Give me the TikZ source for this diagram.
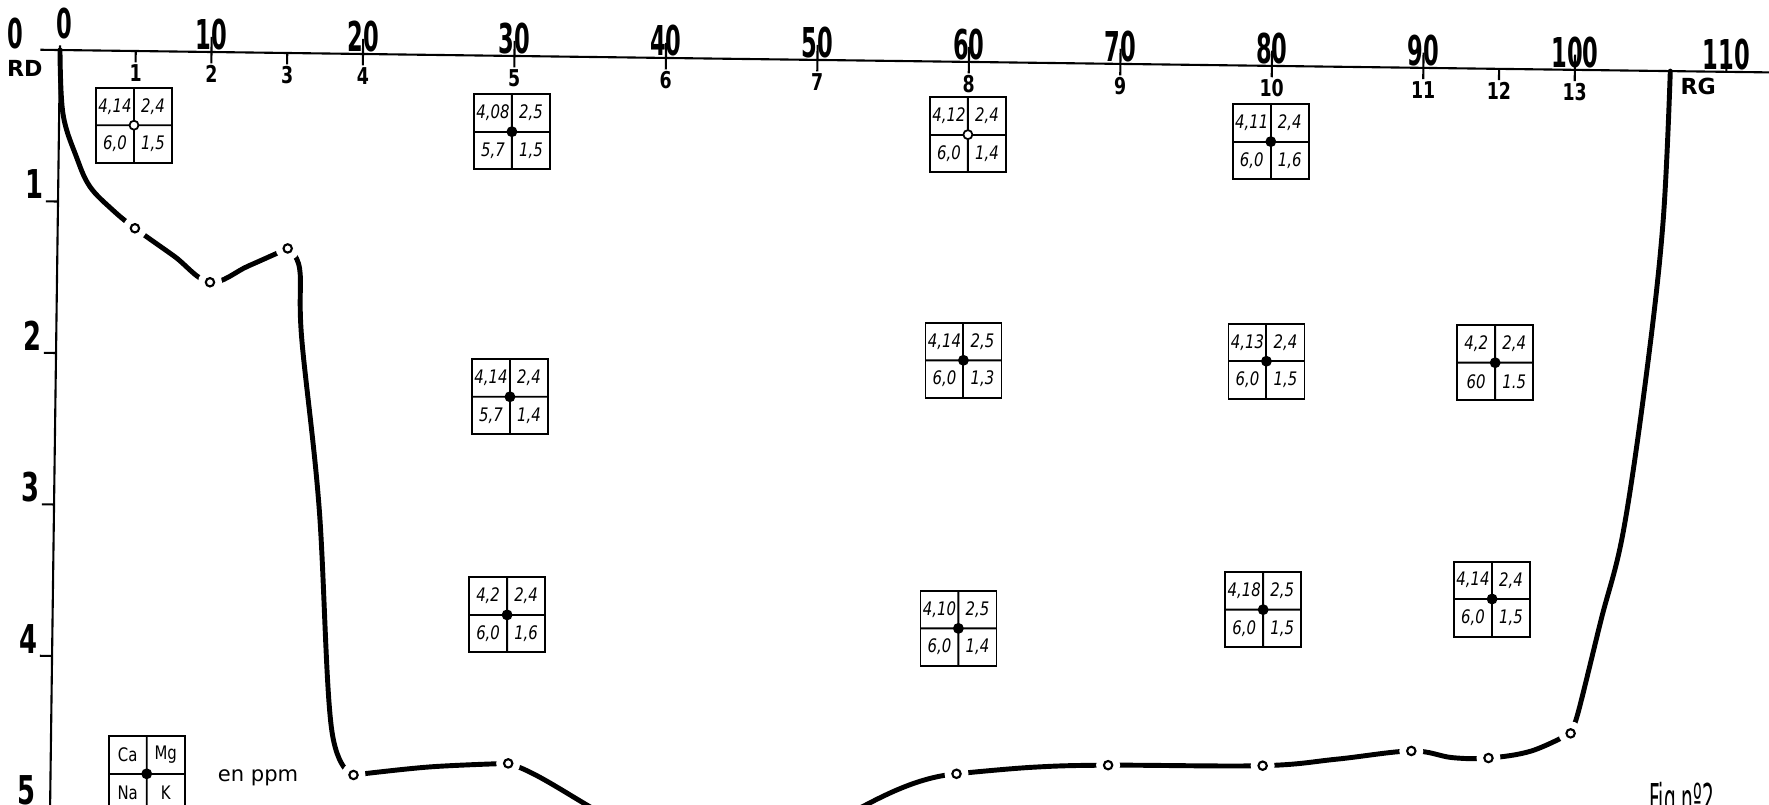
\documentclass[tikz,border=0pt]{standalone}
\usepackage{fontspec}
\setmainfont{DejaVu Sans}
\usepackage{graphicx}
\usepackage{tikz}
\usetikzlibrary{calc}
\tikzset{>=latex}
\tikzset{axisline/.style={line width=0.6pt},
  profil/.style={line width=1.4pt, line cap=round},
  ptline/.style={line width=0.6pt},
  ionframe/.style={draw, line width=0.55pt, minimum width=0.76cm,
    minimum height=0.75cm, inner sep=0pt, outer sep=0pt},
  cell/.style={inner sep=0pt, font=\fontsize{5.3}{6}\selectfont\itshape},
  toplab/.style={anchor=south, inner sep=0pt, font=\fontsize{11.7}{12}\selectfont\bfseries},
  stlab/.style={anchor=north, inner sep=0pt, font=\fontsize{6.6}{7}\selectfont\bfseries},
  deplab/.style={anchor=south east, inner sep=0.5pt, font=\fontsize{11.3}{12}\selectfont\bfseries},
  edgelab/.style={inner sep=0pt, font=\fontsize{6.3}{7}\selectfont\bfseries}}
% condensed lettering
\newcommand{\narrow}[2][0.55]{\scalebox{#1}[1]{#2}}
% 2x2 table of ions around a sample point
\newcommand{\ionbox}[7][fill=black]{%
  \node[ionframe] (#2) at #3 {};
  \draw[line width=0.55pt] (#2.north) -- (#2.south);
  \draw[line width=0.55pt] (#2.west) -- (#2.east);
  \node[cell] (#2-a) at ($(#2.center)!0.5!(#2.north west)$) {\narrow[0.8]{#4}};
  \node[cell] (#2-b) at ($(#2.center)!0.5!(#2.north east)$) {\narrow[0.8]{#5}};
  \node[cell] (#2-c) at ($(#2.center)!0.5!(#2.south west)$) {\narrow[0.8]{#6}};
  \node[cell] (#2-d) at ($(#2.center)!0.5!(#2.south east)$) {\narrow[0.8]{#7}};
  \filldraw[line width=0.5pt, #1] (#2.center) circle (0.045cm);}

\begin{document}
\begin{tikzpicture}[x=0.1515cm, y=-1.515cm]
  \useasboundingbox (0,0) rectangle (17.69cm,-8.04cm);
  \clip (0,0) rectangle (17.69cm,-8.04cm);
  \begin{scope}[shift={(0.60cm,-0.50cm)}, rotate=-0.75]
    % axes
    \draw[axisline] (-1.3,0) -- (114,0); %
    \draw[axisline] (0,-0.03) -- (0,5.2); %
    \foreach \v in {10,20,...,110} {
      \draw[axisline] (\v,0) -- (\v,-0.1);
      \node[toplab] (t\v) at (\v,-0.01) {\narrow{\v}};
    }
    \node[toplab] (t0) at (0.3,-0.07) {\narrow{0}};
    \foreach \u/\s in {5/1,10/2,15/3,20/4,30/5,40/6,50/7,60/8,70/9,80/10,90/11,95/12,100/13} {
      \draw[axisline] (\u,0) -- (\u,0.075);
      \node[stlab] (s\s) at (\u,0.085) {\narrow[0.75]{\s}};
    }
    \foreach \d in {1,...,5} {
      \draw[axisline] (-0.8,\d) -- (0,\d);
      \node[deplab] (d\d) at (-0.8,\d) {\narrow[0.65]{\d}};
    }
    \node[toplab] (d0) at (-2.95,0.0) {\narrow{0}};
    \node[edgelab] (rd) at (-2.3,0.125) {RD};
    \node[edgelab] (rg) at (108.15,0.10) {RG};

    % sample points on the profile
    \coordinate (p1) at (5.1,1.17);
    \coordinate (p2) at (10.1,1.52);
    \coordinate (p3) at (15.2,1.29);
    \coordinate (p4) at (20,4.76);
    \coordinate (p5) at (30.2,4.67);
    \coordinate (p8) at (59.8,4.70);
    \coordinate (p9) at (69.8,4.63);
    \coordinate (p10) at (80,4.62);
    \coordinate (p11) at (89.8,4.51);
    \coordinate (p12) at (94.9,4.55);
    \coordinate (p13) at (100.3,4.38);

    \draw[profil] plot[smooth, tension=0.6] coordinates {(0,0) (0.25,0.42) (1.2,0.71) (2.1,0.9) (3.6,1.05) (p1) (7.7,1.35) (p2) (12.6,1.41) (p3)}; %
    \draw[profil] plot[smooth, tension=0.6] coordinates {(p3) (16.0,1.42) (16.2,1.88) (17.5,3.0) (18.5,4.45) (p4)}; %
    \draw[profil] plot[smooth, tension=0.6] coordinates {(p4) (25,4.70) (p5)}; %
    \draw[profil] (p5) .. controls (33.5,4.76) and (38,5.2) .. (44,5.25)
      .. controls (50,5.3) and (54,4.76) .. (p8); %
    \draw[profil] plot[smooth, tension=0.6] coordinates {(p8) (64.8,4.65) (p9) (p10) (84.9,4.57) (p11) (92.5,4.55) (p12) (97.7,4.50) (p13)}; %
    \draw[profil] plot[smooth, tension=0.6] coordinates {(p13) (100.8,4.23) (102.2,3.63) (103.6,3.04) (105.0,1.99) (105.95,1.0) (106.3,0)}; %
    \foreach \p in {p1,p2,p3,p4,p5,p8,p9,p10,p11,p12,p13} {
      \fill[white] (\p) circle (0.12cm);
      \draw[ptline] (\p) circle (0.042cm);
    }

    % analyses
    \ionbox[fill=white]{s1a}{(4.95,0.49)}{4,14}{2,4}{6,0}{1,5}
    \ionbox{s5a}{(29.9,0.50)}{4,08}{2,5}{5,7}{1,5}
    \ionbox[fill=white]{s8a}{(60.0,0.48)}{4,12}{2,4}{6,0}{1,4}
    \ionbox{s10a}{(80.0,0.50)}{4,11}{2,4}{6,0}{1,6}
    \ionbox{s5b}{(30.0,2.25)}{4,14}{2,4}{5,7}{1,4}
    \ionbox{s8b}{(59.9,1.97)}{4,14}{2,5}{6,0}{1,3}
    \ionbox{s10b}{(79.9,1.95)}{4,13}{2,4}{6,0}{1,5}
    \ionbox{s12b}{(95,1.94)}{4,2}{2,4}{60}{1.5}
    \ionbox{s5c}{(30,3.69)}{4,2}{2,4}{6,0}{1,6}
    \ionbox{s8c}{(59.8,3.74)}{4,10}{2,5}{6,0}{1,4}
    \ionbox{s10c}{(79.9,3.59)}{4,18}{2,5}{6,0}{1,5}
    \ionbox{s12c}{(95,3.50)}{4,14}{2,4}{6,0}{1,5}

    % key
    \ionbox{leg}{(6.35,4.77)}{\upshape Ca}{\upshape Mg}{\upshape Na}{\upshape K}
    \node[anchor=mid west, inner sep=0pt, font=\fontsize{6}{7}\selectfont] (ppm) at (11.0,4.75) {en ppm};
    \node[anchor=north west, inner sep=0pt, font=\fontsize{11.7}{12}\selectfont] (fig) at (105.5,4.69) {\narrow[0.45]{Fig nº2}};
  \end{scope}
\end{tikzpicture}
\end{document}
